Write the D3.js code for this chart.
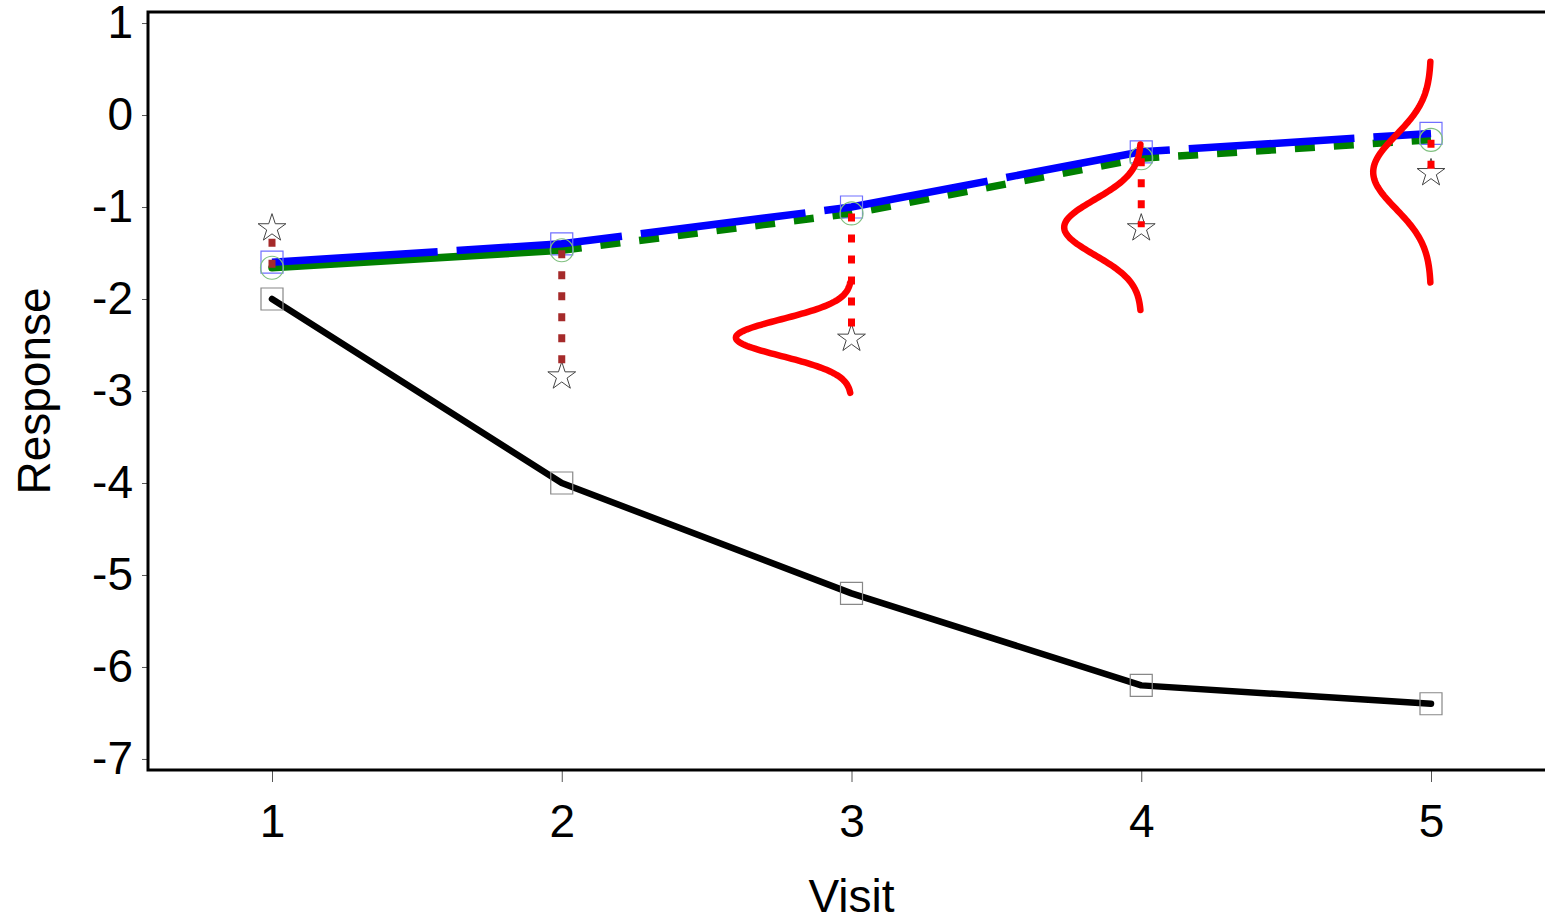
<!DOCTYPE html>
<html><head><meta charset="utf-8">
<script src="https://cdn.jsdelivr.net/npm/d3@7"></script>
<style>html,body{margin:0;padding:0;background:#fff;overflow:hidden}</style>
</head><body>
<svg id="c" width="1545" height="918"></svg>
<script>
const visits = [1, 2, 3, 4, 5];
const observed = [-2.0, -4.0, -5.2, -6.2, -6.4];
const predBlue = [-1.6, -1.4, -1.0, -0.4, -0.2];
const predGreen = [-1.66, -1.47, -1.07, -0.47, -0.27];
const stars = [-1.22, -2.83, -2.42, -1.22, -0.62];
const dotColors = ["#a52a2a", "#a52a2a", "#ff0000", "#ff0000", "#ff0000"];
const curveVisits = [3, 4, 5];
const curveMean = [-2.42, -1.22, -0.62];
const curveSD = [0.2, 0.3, 0.4];
const yTicks = [1, 0, -1, -2, -3, -4, -5, -6, -7];
const xTicks = [1, 2, 3, 4, 5];

const svg = d3.select("#c");
const x = d3.scaleLinear().domain([1, 5]).range([272, 1431]);
const y = d3.scaleLinear().domain([-7.12, 1.12]).range([770, 12]);
const font = "'Liberation Sans', Arial, sans-serif";

// axes
const ya = svg.append("g").attr("transform", "translate(148,0)")
  .call(d3.axisLeft(y).tickValues(yTicks).tickSize(6).tickPadding(9).tickFormat(d3.format("d")));
const xa = svg.append("g").attr("transform", "translate(0,770)")
  .call(d3.axisBottom(x).tickValues(xTicks).tickSize(12).tickPadding(22).tickFormat(d3.format("d")));
[ya, xa].forEach(g => {
  g.select(".domain").remove();
  g.selectAll("line").attr("stroke", "#555").attr("stroke-width", 1);
  g.selectAll("text").attr("font-family", font).attr("font-size", 46).attr("fill", "#000");
});
ya.selectAll("text").text(d => d < 0 ? "-" + Math.abs(d) : d);

// frame
svg.append("rect").attr("x", 148).attr("y", 12).attr("width", 1500).attr("height", 758)
  .attr("fill", "none").attr("stroke", "#000").attr("stroke-width", 3);

// titles
svg.append("text").attr("x", (x(1) + x(5)) / 2).attr("y", 912).attr("text-anchor", "middle")
  .attr("font-family", font).attr("font-size", 46).text("Visit");
svg.append("text").attr("transform", "translate(50," + (391) + ") rotate(-90)").attr("text-anchor", "middle")
  .attr("font-family", font).attr("font-size", 46).text("Response");

const line = d3.line().x(d => x(d[0])).y(d => y(d[1]));
const pts = arr => visits.map((v, i) => [v, arr[i]]);

// observed black line
svg.append("path").datum(pts(observed)).attr("d", line).attr("fill", "none")
  .attr("stroke", "#000").attr("stroke-width", 6.5).attr("stroke-linecap", "round").attr("stroke-linejoin", "round");
svg.selectAll(".sq").data(pts(observed)).enter().append("path")
  .attr("d", d3.symbol(d3.symbolSquare, 484)).attr("transform", d => `translate(${x(d[0])},${y(d[1])})`)
  .attr("fill", "none").attr("stroke", "#888").attr("stroke-width", 1.2);

// green: solid first segment, dashed rest
const g = pts(predGreen);
svg.append("path").datum(g.slice(0, 2)).attr("d", line).attr("fill", "none")
  .attr("stroke", "#008000").attr("stroke-width", 7.5).attr("stroke-linecap", "round");
svg.append("path").datum(g.slice(1)).attr("d", line).attr("fill", "none")
  .attr("stroke", "#008000").attr("stroke-width", 7.5).attr("stroke-dasharray", "20,19");

// blue long dash
svg.append("path").datum(pts(predBlue)).attr("d", line).attr("fill", "none")
  .attr("stroke", "#0000ff").attr("stroke-width", 7.5).attr("stroke-dasharray", "166,19");

svg.selectAll(".bsq").data(pts(predBlue)).enter().append("path")
  .attr("d", d3.symbol(d3.symbolSquare, 484)).attr("transform", d => `translate(${x(d[0])},${y(d[1])})`)
  .attr("fill", "none").attr("stroke", "#7070ff").attr("stroke-width", 1.2);
svg.selectAll(".gc").data(g).enter().append("circle")
  .attr("cx", d => x(d[0])).attr("cy", d => y(d[1])).attr("r", 11.5)
  .attr("fill", "none").attr("stroke", "#80c080").attr("stroke-width", 1.2);

// stars
svg.selectAll(".st").data(pts(stars)).enter().append("path")
  .attr("d", d3.symbol(d3.symbolStar, 240)).attr("transform", d => `translate(${x(d[0])},${y(d[1]) + 1})`)
  .attr("fill", "#fff").attr("stroke", "#444").attr("stroke-width", 1);

// dotted connectors
visits.forEach((v, i) => {
  svg.append("line").attr("x1", x(v)).attr("x2", x(v))
    .attr("y1", y(predGreen[i])).attr("y2", y(stars[i]))
    .attr("stroke", dotColors[i]).attr("stroke-width", 7).attr("stroke-dasharray", "8,13");
});

// normal density curves
const pdf = (t, m, s) => Math.exp(-0.5 * ((t - m) / s) ** 2) / (s * Math.sqrt(2 * Math.PI));
curveVisits.forEach((v, i) => {
  const m = curveMean[i], s = curveSD[i];
  const ys = d3.range(0, 121).map(k => m + 3 * s - k * (6 * s / 120));
  const cp = ys.map(t => [v - 0.2 * pdf(t, m, s), t]);
  svg.append("path").datum(cp).attr("d", line).attr("fill", "none")
    .attr("stroke", "#ff0000").attr("stroke-width", 6.5).attr("stroke-linecap", "round");
});
</script>
</body></html>
